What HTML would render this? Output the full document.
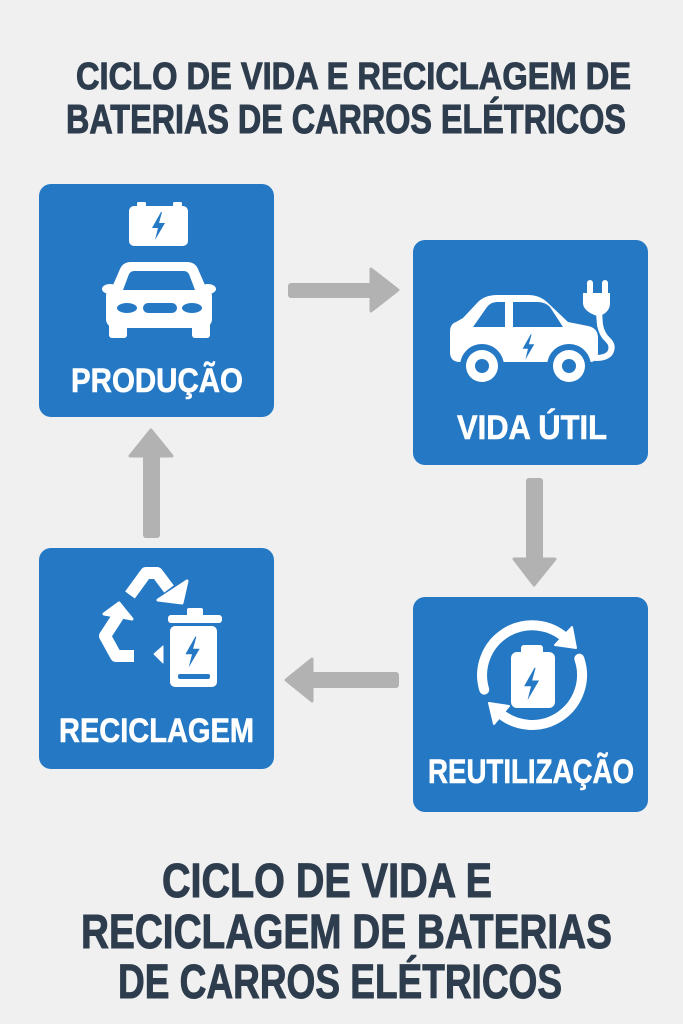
<!DOCTYPE html>
<html><head><meta charset="utf-8"><style>
html,body{margin:0;padding:0;background:#f0f0f0;}
svg{display:block;}
.t{font-family:"Liberation Sans",sans-serif;font-weight:bold;fill:#2e3d4e;stroke:#2e3d4e;stroke-width:1;}
.w{font-family:"Liberation Sans",sans-serif;font-weight:bold;fill:#ffffff;stroke:#ffffff;stroke-width:0.6;}
</style></head><body>
<svg width="683" height="1024" viewBox="0 0 683 1024" xmlns="http://www.w3.org/2000/svg">
<defs>
<path id="bolt" d="M3 -14 L-6 2 L0 2 L-3 14 L7 -3 L1 -3 L4 -14 Z"/>
</defs>
<rect width="683" height="1024" fill="#f0f0f0"/>

<!-- Top title -->
<text class="t" x="76" y="89" font-size="38" textLength="555" lengthAdjust="spacingAndGlyphs">CICLO DE VIDA E RECICLAGEM DE</text>
<text class="t" x="66" y="133" font-size="41" textLength="560" lengthAdjust="spacingAndGlyphs">BATERIAS DE CARROS ELÉTRICOS</text>

<!-- Boxes -->
<rect x="39" y="184" width="235" height="233" rx="12" fill="#2478c4"/>
<rect x="413" y="240" width="235" height="225" rx="12" fill="#2478c4"/>
<rect x="39" y="548" width="235" height="221" rx="12" fill="#2478c4"/>
<rect x="413" y="597" width="235" height="215" rx="12" fill="#2478c4"/>

<!-- Box1 icon: battery + car front -->
<g fill="#ffffff">
  <rect x="137" y="202" width="9" height="7" rx="1.5"/>
  <rect x="173" y="202" width="9" height="7" rx="1.5"/>
  <rect x="129" y="206" width="59" height="40" rx="5"/>
</g>
<use href="#bolt" fill="#2478c4" transform="translate(158,226)"/>
<g fill="#ffffff">
  <path d="M131 262 L187 262 Q195 262 198 269 L208 292 L110 292 L120 269 Q123 262 131 262 Z"/>
  <rect x="106" y="287" width="106" height="41" rx="9"/>
  <rect x="109" y="320" width="18" height="18" rx="3"/>
  <rect x="192" y="320" width="18" height="18" rx="3"/>
  <ellipse cx="110" cy="289" rx="8" ry="5"/>
  <ellipse cx="208" cy="289" rx="8" ry="5"/>
</g>
<g fill="#2478c4">
  <path d="M134 271 L184 271 Q187 271 189 274 L195 290 L123 290 L129 274 Q131 271 134 271 Z"/>
  <ellipse cx="127" cy="308" rx="10" ry="5"/>
  <rect x="143" y="303" width="34" height="10" rx="5"/>
  <ellipse cx="192" cy="308" rx="10" ry="5"/>
</g>

<!-- Box2 icon: side car with plug -->
<path d="M463 318 L478 302 Q485 295 497 295 L528 295 Q540 295 548 303 L568 322 L588 326 Q598 328 598 338 L598 352 Q598 362 590 362 L460 362 Q450 362 450 352 L450 332 Q450 324 456 322 Z" fill="#ffffff"/>
<g fill="#2478c4">
  <path d="M473 327 L487 307 Q491 302 497 302 L505 302 L505 327 Z"/>
  <path d="M513 302 L538 302 Q545 302 550 307 L563 327 L513 327 Z"/>
  <circle cx="482" cy="366" r="22"/>
  <circle cx="569" cy="366" r="22"/>
</g>
<g fill="#ffffff">
  <circle cx="482" cy="366" r="16"/>
  <circle cx="569" cy="366" r="16"/>
</g>
<g fill="#2478c4">
  <circle cx="482" cy="366" r="7"/>
  <circle cx="569" cy="366" r="7"/>
</g>
<use href="#bolt" fill="#2478c4" transform="translate(528,347) scale(0.9)"/>
<path d="M599 312 L600 325 Q602 335 608 340 Q614 346 610 353 Q606 358 596 358" fill="none" stroke="#ffffff" stroke-width="6" stroke-linecap="round"/>
<g fill="#ffffff">
  <rect x="587" y="280" width="6" height="16" rx="3"/>
  <rect x="602" y="280" width="6" height="16" rx="3"/>
  <path d="M583 293 L610 293 L610 303 Q610 311 602 315 L597 316 Q583 311 583 303 Z"/>
</g>

<!-- Box3 icon: recycle + battery -->
<g fill="#ffffff" stroke="#ffffff" stroke-linejoin="round">
  <path d="M130 595 L146 573 L157 573 L169 589" fill="none" stroke-width="12"/>
  <polygon points="187,581 182,603 158,600" stroke-width="3"/>
  <path d="M118 616 L105 636 L116 656 L134 656" fill="none" stroke-width="12"/>
  <polygon points="119,603 104,614 132,619" stroke-width="3"/>
  <polygon points="163,646 163,663 154,654" stroke-width="1"/>
</g>
<g fill="#ffffff">
  <rect x="187" y="608" width="16" height="10" rx="2"/>
  <rect x="168" y="615" width="54" height="8" rx="3"/>
  <rect x="170" y="626" width="47" height="61" rx="5"/>
</g>
<use href="#bolt" fill="#2478c4" transform="translate(192,652) scale(1.1)"/>
<rect x="178" y="674" width="32" height="5" rx="2" fill="#2478c4"/>

<!-- Box4 icon: circular arrows + battery -->
<g fill="none" stroke="#ffffff" stroke-width="10" stroke-linecap="round">
  <path d="M484.2 689.6 A50 50 0 0 1 566 638.5"/>
  <path d="M579.3 658.7 A50 50 0 0 1 499 712.5"/>
</g>
<g fill="#ffffff" stroke="#ffffff" stroke-width="2" stroke-linejoin="round">
  <polygon points="572,627 555,645 576,648"/>
  <polygon points="509,706 494,724 489,703"/>
</g>
<g fill="#ffffff">
  <rect x="521" y="645" width="22" height="11" rx="3"/>
  <rect x="511" y="652" width="44" height="56" rx="6"/>
</g>
<use href="#bolt" fill="#2478c4" transform="translate(531,684) scale(1.15)"/>

<!-- Box labels -->
<text class="w" x="71" y="392" font-size="34" textLength="172" lengthAdjust="spacingAndGlyphs">PRODUÇÃO</text>
<text class="w" x="457" y="439" font-size="34" textLength="150" lengthAdjust="spacingAndGlyphs">VIDA ÚTIL</text>
<text class="w" x="59" y="742" font-size="34" textLength="195" lengthAdjust="spacingAndGlyphs">RECICLAGEM</text>
<text class="w" x="428" y="783" font-size="34" textLength="206" lengthAdjust="spacingAndGlyphs">REUTILIZAÇÃO</text>

<!-- Gray connector arrows -->
<g fill="#b2b2b2" stroke="#b2b2b2" stroke-linejoin="round">
  <rect x="288" y="283" width="85" height="15" rx="3" stroke-width="0"/>
  <polygon points="371,269 398,290 371,311" stroke-width="3"/>
  <rect x="143" y="455" width="17" height="83" rx="3" stroke-width="0"/>
  <polygon points="130,456 151,430 172,456" stroke-width="3"/>
  <rect x="526" y="478" width="17" height="82" rx="3" stroke-width="0"/>
  <polygon points="514,559 534,585 555,559" stroke-width="3"/>
  <rect x="310" y="672" width="89" height="16" rx="3" stroke-width="0"/>
  <polygon points="312,659 286,680 312,701" stroke-width="3"/>
</g>

<!-- Bottom title -->
<text class="t" x="162" y="897" font-size="48" textLength="330" lengthAdjust="spacingAndGlyphs">CICLO DE VIDA E</text>
<text class="t" x="81" y="948" font-size="48" textLength="531" lengthAdjust="spacingAndGlyphs">RECICLAGEM DE BATERIAS</text>
<text class="t" x="118" y="998" font-size="48" textLength="444" lengthAdjust="spacingAndGlyphs">DE CARROS ELÉTRICOS</text>
</svg>
</body></html>
